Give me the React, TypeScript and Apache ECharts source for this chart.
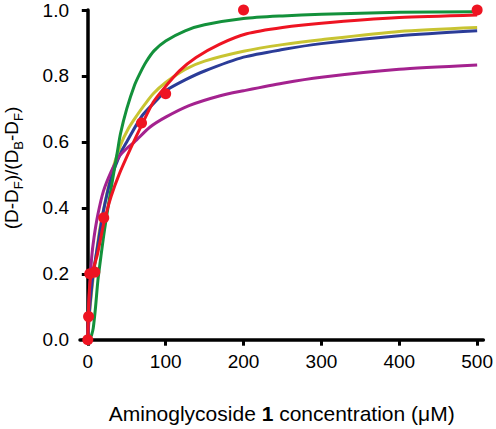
import React, { useEffect, useRef } from "react";
import * as echarts from "echarts";

const xTicks = [0, 100, 200, 300, 400, 500];
const yTicks = [0, 0.2, 0.4, 0.6, 0.8, 1.0];

const greenX = [0, 3, 5, 7, 10, 13, 17, 21.6, 30, 38, 42, 50, 60, 67, 75, 85, 100, 125, 150, 200, 250, 300, 400, 500];
const greenY = [0, 0.005, 0.015, 0.035, 0.1, 0.18, 0.255, 0.335, 0.46, 0.57, 0.625, 0.7, 0.772, 0.808, 0.843, 0.876, 0.906, 0.937, 0.955, 0.974, 0.982, 0.987, 0.993, 0.995];

const yellowX = [0, 1, 3, 7, 11, 15, 20, 30, 42, 52, 63, 73, 84, 100, 125, 150, 200, 250, 300, 400, 500];
const yellowY = [0, 0.04, 0.1, 0.19, 0.26, 0.33, 0.39, 0.5, 0.59, 0.64, 0.68, 0.713, 0.746, 0.78, 0.82, 0.845, 0.875, 0.895, 0.91, 0.935, 0.947];

const blueX = [0, 1, 3, 7, 13, 20, 30, 43, 50, 70, 90, 100, 125, 150, 200, 250, 300, 400, 500];
const blueY = [0, 0.045, 0.11, 0.2, 0.29, 0.39, 0.49, 0.57, 0.6, 0.68, 0.73, 0.755, 0.788, 0.815, 0.857, 0.88, 0.898, 0.922, 0.937];

const purpleX = [0, 1, 2.5, 5, 8, 13, 20, 30, 40, 50, 60, 80, 100, 130, 170, 200, 250, 300, 400, 500];
const purpleY = [0, 0.08, 0.16, 0.25, 0.31, 0.38, 0.45, 0.51, 0.555, 0.58, 0.6, 0.645, 0.675, 0.71, 0.74, 0.755, 0.778, 0.796, 0.82, 0.833];

const redX = [0, 1, 3, 7, 12, 16, 20.7, 30, 40, 55, 69, 84, 97, 118, 139, 169, 204, 250, 300, 400, 500];
const redY = [0, 0.1, 0.18, 0.215, 0.255, 0.3, 0.355, 0.435, 0.5, 0.58, 0.65, 0.72, 0.76, 0.816, 0.856, 0.896, 0.928, 0.947, 0.96, 0.977, 0.985];

const pointX = [0, 1, 2.5, 9, 20.5, 69, 100, 200, 500];
const pointY = [0, 0.07, 0.2, 0.205, 0.37, 0.657, 0.746, 1.0, 1.0];

const zip = (xs: number[], ys: number[]) => xs.map((x, i) => [x, ys[i]]);

const FONT = "Liberation Sans, Arial, sans-serif";

export default function App() {
  const ref = useRef<HTMLDivElement>(null);
  useEffect(() => {
    if (!ref.current) return;
    const chart = echarts.init(ref.current, undefined, { renderer: "svg" });
    const curve = (name: string, xs: number[], ys: number[], color: string) => ({
      name,
      type: "line",
      data: zip(xs, ys),
      smooth: 0.25,
      showSymbol: false,
      symbol: "none",
      lineStyle: { color, width: 3 },
      clip: false,
    });
    chart.setOption({
      animation: false,
      grid: { left: 80, right: 9, top: 10, bottom: 81, containLabel: false },
      xAxis: {
        type: "value",
        min: -10,
        max: 508,
        axisLine: { show: true, lineStyle: { color: "#000", width: 3.5 } },
        axisTick: { show: true, length: 6, lineStyle: { color: "#000", width: 3 }, customValues: xTicks },
        axisLabel: { color: "#000", fontSize: 19, fontFamily: FONT, margin: 9, customValues: xTicks },
        splitLine: { show: false },
        name: "Aminoglycoside {b|1} concentration (\u03bcM)",
        nameLocation: "middle",
        nameGap: 60,
        nameTextStyle: {
          color: "#000",
          fontSize: 21,
          fontFamily: FONT,
          rich: { b: { fontWeight: "bold", fontSize: 21, fontFamily: FONT, color: "#000" } },
        },
      },
      yAxis: {
        type: "value",
        min: -0.01,
        max: 1.0,
        axisLine: { show: true, lineStyle: { color: "#000", width: 3.5 } },
        axisTick: { show: true, length: 6, lineStyle: { color: "#000", width: 3 }, customValues: yTicks },
        axisLabel: {
          color: "#000",
          fontSize: 19,
          fontFamily: FONT,
          margin: 11,
          customValues: yTicks,
          formatter: (v: number) => v.toFixed(1),
        },
        splitLine: { show: false },
      },
      graphic: [
        {
          type: "text",
          x: 11,
          y: 168,
          rotation: Math.PI / 2,
          style: {
            text: "(D-D{s|F})/(D{s|B}-D{s|F})",
            fill: "#000",
            font: `19px ${FONT}`,
            align: "center",
            verticalAlign: "middle",
            rich: {
              s: { fontSize: 13, fontFamily: FONT, fill: "#000", verticalAlign: "bottom", padding: [14, 0, 0, 0] },
            },
          },
        },
      ],
      series: [
        curve("yellow", yellowX, yellowY, "#c8c432"),
        curve("blue", blueX, blueY, "#2b3c98"),
        curve("purple", purpleX, purpleY, "#a4228f"),
        curve("green", greenX, greenY, "#13913b"),
        curve("red", redX, redY, "#ee1422"),
        {
          name: "points",
          type: "scatter",
          data: zip(pointX, pointY),
          symbol: "circle",
          symbolSize: 11,
          itemStyle: { color: "#ee1422", opacity: 1 },
          clip: false,
          z: 5,
        },
      ],
    });
    return () => chart.dispose();
  }, []);
  return (
    <div
      ref={ref}
      style={{ position: "absolute", left: 0, top: 0, width: 496, height: 429 }}
    />
  );
}
